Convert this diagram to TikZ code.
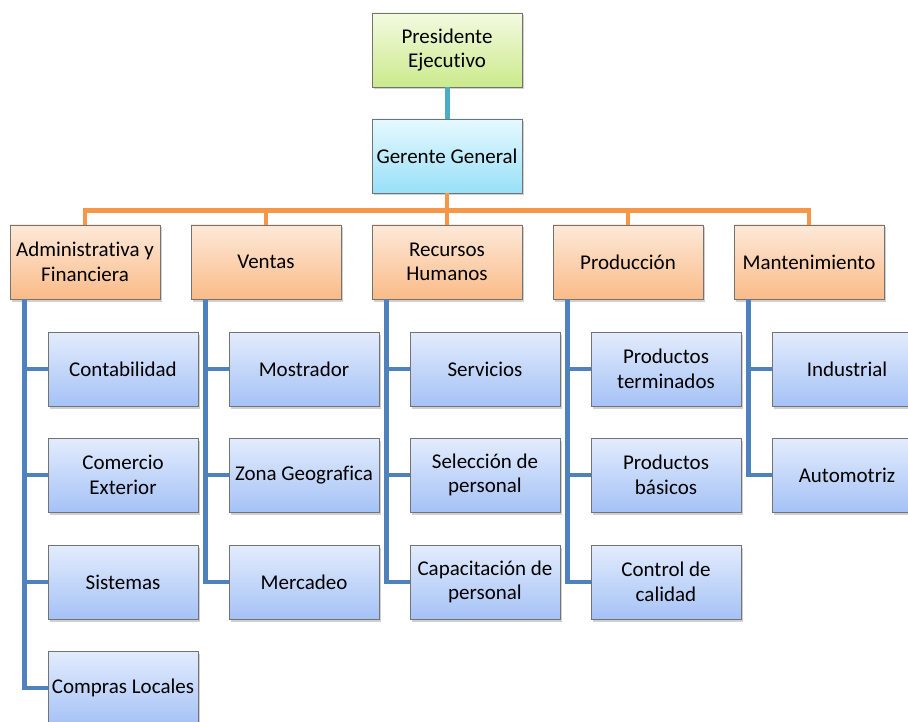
\documentclass[tikz,border=0pt]{standalone}
\usepackage{fontspec}
\setmainfont[Ligatures=NoCommon]{Carlito}
\usetikzlibrary{shadows,calc}

\definecolor{presTop}{HTML}{F3FAE0}
\definecolor{presBot}{HTML}{CBEA8C}
\definecolor{gerTop}{HTML}{E6F9FF}
\definecolor{gerBot}{HTML}{98E0F8}
\definecolor{deptTop}{HTML}{FDE9D9}
\definecolor{deptBot}{HTML}{FABB88}
\definecolor{unitTop}{HTML}{E3ECFD}
\definecolor{unitBot}{HTML}{A5C2F6}
\definecolor{orangeLine}{HTML}{F79646}
\definecolor{blueLine}{HTML}{4F81BD}
\definecolor{tealLine}{HTML}{4BACC6}

\begin{document}
\begin{tikzpicture}[x=1pt, y=-1pt,
    box/.style={rectangle, draw=black!55, line width=0.7pt, minimum width=150pt, minimum height=74pt,
        align=center, inner sep=1pt, font=\fontsize{21}{24.5}\selectfont,
        drop shadow={opacity=0.3, shadow xshift=2pt, shadow yshift=-2.5pt, fill=black!60}},
    pres box/.style={box, top color=presTop, bottom color=presBot},
    ger box/.style={box, top color=gerTop, bottom color=gerBot},
    dept box/.style={box, top color=deptTop, bottom color=deptBot},
    unit box/.style={box, top color=unitTop, bottom color=unitBot},
    teal line/.style={line width=5pt, tealLine},
    dept line/.style={line width=4.5pt, orangeLine},
    unit line/.style={line width=4.5pt, blueLine}
]

\fill[white] (0,0) rectangle (908,722);
\useasboundingbox (0,0) rectangle (908,722);

% Top of the chart
\node[pres box] (pres) at (447, 50) {Presidente\\Ejecutivo};
\node[ger box] (ger) at (447, 156) {Gerente General};

% Departments
\node[dept box] (adm) at (85, 262) {Administrativa y\\Financiera};
\node[dept box] (ven) at (266, 262) {Ventas};
\node[dept box] (rh) at (447, 262) {Recursos\\Humanos};
\node[dept box] (prod) at (628, 262) {Producción};
\node[dept box] (mant) at (809, 262) {Mantenimiento};

% Administrativa y Financiera
\node[unit box] (adm1) at (123, 369) {Contabilidad};
\node[unit box] (adm2) at (123, 475) {Comercio\\Exterior};
\node[unit box] (adm3) at (123, 582) {Sistemas};
\node[unit box] (adm4) at (123, 688) {Compras Locales};

% Ventas
\node[unit box] (ven1) at (304, 369) {Mostrador};
\node[unit box] (ven2) at (304, 475) {Zona Geografica};
\node[unit box] (ven3) at (304, 582) {Mercadeo};

% Recursos Humanos
\node[unit box] (rh1) at (485, 369) {Servicios};
\node[unit box] (rh2) at (485, 475) {Selección de\\personal};
\node[unit box] (rh3) at (485, 582) {Capacitación de\\personal};

% Produccion
\node[unit box] (prod1) at (666, 369) {Productos\\terminados};
\node[unit box] (prod2) at (666, 475) {Productos\\básicos};
\node[unit box] (prod3) at (666, 582) {Control de\\calidad};

% Mantenimiento
\node[unit box] (mant1) at (847, 369) {Industrial};
\node[unit box] (mant2) at (847, 475) {Automotriz};

% Presidente -> Gerente
\draw[teal line] (pres.south) -- (ger.north);

% Gerente -> departments
\draw[dept line] (ger.south) -- ++(0,17) -| (adm.north);
\draw[dept line] (ger.south) -- ++(0,17) -| (ven.north);
\draw[dept line] (ger.south) -- (rh.north);
\draw[dept line] (ger.south) -- ++(0,17) -| (prod.north);
\draw[dept line] (ger.south) -- ++(0,17) -| (mant.north);

% Departments -> units
\draw[unit line] ($(adm.south west)+(15,0)$) |- (adm1.west);
\draw[unit line] ($(adm.south west)+(15,0)$) |- (adm2.west);
\draw[unit line] ($(adm.south west)+(15,0)$) |- (adm3.west);
\draw[unit line] ($(adm.south west)+(15,0)$) |- (adm4.west);

\draw[unit line] ($(ven.south west)+(15,0)$) |- (ven1.west);
\draw[unit line] ($(ven.south west)+(15,0)$) |- (ven2.west);
\draw[unit line] ($(ven.south west)+(15,0)$) |- (ven3.west);

\draw[unit line] ($(rh.south west)+(15,0)$) |- (rh1.west);
\draw[unit line] ($(rh.south west)+(15,0)$) |- (rh2.west);
\draw[unit line] ($(rh.south west)+(15,0)$) |- (rh3.west);

\draw[unit line] ($(prod.south west)+(15,0)$) |- (prod1.west);
\draw[unit line] ($(prod.south west)+(15,0)$) |- (prod2.west);
\draw[unit line] ($(prod.south west)+(15,0)$) |- (prod3.west);

\draw[unit line] ($(mant.south west)+(15,0)$) |- (mant1.west);
\draw[unit line] ($(mant.south west)+(15,0)$) |- (mant2.west);

\end{tikzpicture}
\end{document}
